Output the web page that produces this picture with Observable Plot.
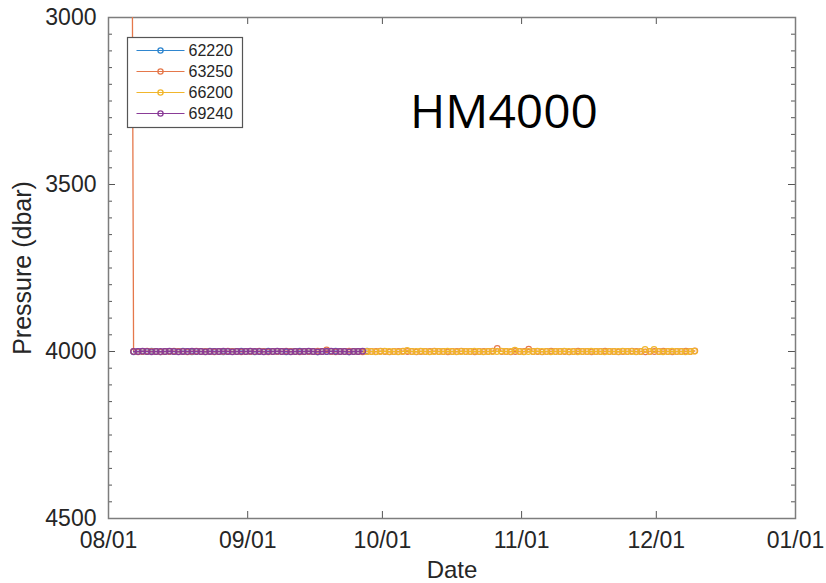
<!DOCTYPE html>
<html><head><meta charset="utf-8">
<script src="https://cdn.jsdelivr.net/npm/d3@7"></script>
<script src="https://cdn.jsdelivr.net/npm/@observablehq/plot@0.6"></script>
<style>
body{margin:0;background:#fff;}
#chart{position:relative;width:826px;height:583px;overflow:hidden;}
#overlay{position:absolute;left:0;top:0;pointer-events:none;}
</style></head><body><div id="chart"></div>
<script>
const seriesNames = ["62220", "63250", "66200", "69240"];
const seriesColors = ["#2f86cf", "#e5784b", "#f1b62c", "#8a3c97"];
const seriesStart = ["2021-08-06T14:00", "2021-08-05T14:00", "2021-09-27T12:00", "2021-08-06T14:00"];
const annotation = "HM4000";
const xLabel = "Date";
const yLabel = "Pressure (dbar)";

const p62220 = [
  4001,4000,4000,4000,3999,4000,4001,4000,4000,4000,
  4000,3999,4000,4001,4000,4000,4000,3999,4000,4000,
  4001,4000,4000,4000,3999,4000,4000,4001,4000,4000,
  3999,4000,4000,4000,4001,4000,4000,3999,4000,4000,
  4000,4001,4000,4000,4000,3999,4000,4000,4001,4000,
  4000,4000,3999
];
const p63250 = [
  0,
  4000,4001,4000,3999,4000,4000,4001,4000,4000,3999,
  4000,4000,4001,4000,3999,4000,4000,4000,4001,4000,
  4000,3999,4000,4000,4001,4000,4000,4000,3999,4000,
  4001,4000,4000,4000,3999,4000,4000,4001,4000,4000,
  4000,3999,4000,3995,4000,4001,4000,4000,3999,4000,
  4000,4001,4000,4000,4000,3999,4000,4001,4000,4000,
  3999,4000,4000,4001,4000,4000,4000,3999,4000,4000,
  4001,4000,4000,3999,4000,4000,4001,4000,4000,4000,
  3999,3991,4000,4000,4001,4000,4000,4000,3993,4000,
  4000,4001,4000,3999,4000,4000,4000,4001,4000,3999,
  4000,4000,4001,4000,4000,3999,4000,4000,4001,4000,
  4000,3999,4000,4000,4001,4000,4000,4000,3999,4000,
  4001,4000,4000,3999,4000,3998
];
const p66200 = [
  4000,4000,4001,4000,3999,4000,4000,4001,4000,3997,
  4000,4000,3999,4000,4001,4000,4000,4000,3999,4000,
  4001,4000,4000,4000,3999,4000,4001,4000,4000,4000,
  3999,4000,4000,3996,4000,4001,4000,4000,3999,4000,
  4000,4001,4000,4000,3999,4000,4000,4001,4000,4000,
  3999,4000,4000,4001,4000,4000,4000,3999,4000,4000,
  4001,4000,3994,4000,3994,4000,4001,4000,3999,4000,
  4000,4001,4000,3999
];
const p69240 = [
  4000,4000,3999,4000,4001,4000,4000,4000,3999,4000,
  4001,4000,4000,3999,4000,4000,4001,4000,4000,4000,
  3999,4000,4001,4000,4000,4000,3999,4000,4000,4001,
  4000,4000,3999,4000,4000,4001,4000,4000,4000,3999,
  4000,4001,4000,4000,3999,4000,4000,4000,4001,4000,
  4000,3999
];
const seriesValues = [p62220, p63250, p66200, p69240];

const monthTicks = ["2021-08-01", "2021-09-01", "2021-10-01", "2021-11-01", "2021-12-01", "2022-01-01"];
const pressureTicks = [3000, 3500, 4000, 4500];
const minorPressureTicks = [
  3050,3100,3150,3200,3250,3300,3350,3400,3450,
  3550,3600,3650,3700,3750,3800,3850,3900,3950,
  4050,4100,4150,4200,4250,4300,4350,4400,4450
];

const W = 826, H = 583;
const mL = 108, mR = 31, mT = 17, mB = 65;
const plotW = W - mL - mR, plotH = H - mT - mB;

const monthDates = monthTicks.map(d => new Date(d + "T00:00:00Z"));
const seriesData = seriesNames.map((name, s) => {
  const start = new Date(seriesStart[s] + ":00Z");
  return seriesValues[s].map((p, i) => ({series: name, date: d3.utcDay.offset(start, i), pressure: p}));
});

const marks = [
  Plot.ruleY(minorPressureTicks, {stroke: "#555", strokeWidth: 1, insetRight: plotW - 4}),
  Plot.ruleY(minorPressureTicks, {stroke: "#555", strokeWidth: 1, insetLeft: plotW - 4}),
  Plot.ruleY(pressureTicks, {stroke: "#555", strokeWidth: 1, insetRight: plotW - 7}),
  Plot.ruleY(pressureTicks, {stroke: "#555", strokeWidth: 1, insetLeft: plotW - 7}),
  Plot.ruleX(monthDates, {stroke: "#555", strokeWidth: 1, insetTop: plotH - 7}),
  Plot.ruleX(monthDates, {stroke: "#555", strokeWidth: 1, insetBottom: plotH - 7}),
  Plot.frame({stroke: "#7d7d7d", strokeWidth: 1.5}),
  Plot.axisY({ticks: pressureTicks, tickSize: 0, tickPadding: 12, label: null, tickFormat: d => String(d)}),
  Plot.axisX({ticks: monthDates, tickSize: 0, tickPadding: 13, label: null, tickFormat: d3.utcFormat("%m/%d")}),
  Plot.text([yLabel], {frameAnchor: "left", textAnchor: "middle", dx: -86, rotate: -90, fontSize: 25, fill: "#262626"}),
  Plot.text([xLabel], {frameAnchor: "bottom", textAnchor: "middle", dy: 59, fontSize: 24, fill: "#262626"})
];
seriesData.forEach((data, s) => {
  marks.push(Plot.line(data, {x: "date", y: "pressure", stroke: seriesColors[s], strokeWidth: 1.3, clip: true}));
  marks.push(Plot.dot(data, {x: "date", y: "pressure", r: 2.8, stroke: seriesColors[s], strokeWidth: 1.2, fill: "none", clip: true}));
});

const chart = Plot.plot({
  width: W, height: H,
  marginLeft: mL, marginRight: mR, marginTop: mT, marginBottom: mB,
  x: {type: "utc", domain: [monthDates[0], monthDates[monthDates.length - 1]]},
  y: {domain: [3000, 4500], reverse: true},
  style: {fontFamily: "'Liberation Sans', Arial, sans-serif", fontSize: "23px", color: "#262626", background: "#fff"},
  marks
});
const host = document.getElementById("chart");
host.appendChild(chart);

// Legend and annotation overlay
const ns = "http://www.w3.org/2000/svg";
const ov = document.createElementNS(ns, "svg");
ov.setAttribute("id", "overlay");
ov.setAttribute("width", W);
ov.setAttribute("height", H);
function el(tag, attrs, parent) {
  const e = document.createElementNS(ns, tag);
  for (const k in attrs) e.setAttribute(k, attrs[k]);
  parent.appendChild(e);
  return e;
}
const lg = el("g", {transform: "translate(127.5,37.5)"}, ov);
el("rect", {x: 0, y: 0, width: 115, height: 90, fill: "#fff", stroke: "#555", "stroke-width": 1.2}, lg);
seriesNames.forEach((name, i) => {
  const y = 13 + i * 21;
  el("line", {x1: 9, x2: 57, y1: y, y2: y, stroke: seriesColors[i], "stroke-width": 1.2}, lg);
  el("circle", {cx: 33, cy: y, r: 2.6, fill: "none", stroke: seriesColors[i], "stroke-width": 1.3}, lg);
  const t = el("text", {x: 61, y: y, "dominant-baseline": "central", "font-size": 16,
    "font-family": "'Liberation Sans', Arial, sans-serif", fill: "#262626"}, lg);
  t.textContent = name;
});
const ann = el("text", {x: 410, y: 128, "font-size": 45, "font-family": "'Open Sans', 'Noto Sans', sans-serif",
  fill: "#000", textLength: 188, lengthAdjust: "spacingAndGlyphs"}, ov);
ann.textContent = annotation;
host.appendChild(ov);
</script>
</body></html>
